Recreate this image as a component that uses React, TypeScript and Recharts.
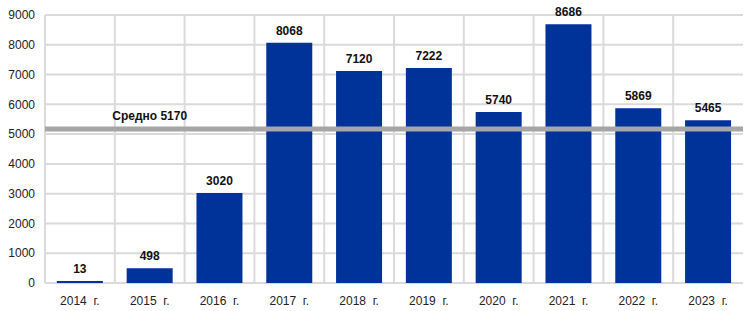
import { BarChart, Bar, XAxis, YAxis, CartesianGrid, ReferenceLine, LabelList } from "recharts";

const years = ["2014", "2015", "2016", "2017", "2018", "2019", "2020", "2021", "2022", "2023"];
const values = [13, 498, 3020, 8068, 7120, 7222, 5740, 8686, 5869, 5465];
const average = 5170;
const yTicks = [0, 1000, 2000, 3000, 4000, 5000, 6000, 7000, 8000, 9000];

const data = years.map((y, i) => ({ year: `${y}\u00a0\u00a0г.`, value: values[i] }));

const FONT = "Arial, 'Liberation Sans', sans-serif";

export default function App() {
  const renderAvgLabel = (props: any) => {
    const vb = props.viewBox || {};
    const x = (vb.x || 0) + (vb.width || 0) * 0.15;
    const y = (vb.y || 0) - 9;
    return (
      <text x={x} y={y} textAnchor="middle" fill="#111" fontSize={12} fontWeight="bold" fontFamily={FONT}>
        {`Средно ${average}`}
      </text>
    );
  };

  return (
    <div style={{ position: "absolute", left: 0, top: 0, background: "#fff" }}>
      <BarChart
        width={744}
        height={311}
        data={data}
        margin={{ top: 15, right: 1, bottom: 0, left: 0 }}
        barCategoryGap="17%"
      >
        <CartesianGrid
          stroke="#dadada"
          strokeWidth={2}
          verticalCoordinatesGenerator={({ offset }: any) =>
            years.map((_, i) => offset.left + (offset.width / years.length) * i)
          }
        />
        <XAxis
          dataKey="year"
          axisLine={false}
          tickLine={false}
          height={28}
          tickMargin={7}
          interval={0}
          tick={{ fill: "#222", fontSize: 12, fontFamily: FONT }}
        />
        <YAxis
          domain={[0, 9000]}
          ticks={yTicks}
          axisLine={false}
          tickLine={false}
          width={45}
          tickMargin={4}
          interval={0}
          tick={{ fill: "#222", fontSize: 12, fontFamily: FONT }}
        />
        <Bar dataKey="value" fill="#003399" minPointSize={2} isAnimationActive={false}>
          <LabelList
            dataKey="value"
            position="top"
            offset={8}
            fill="#111"
            fontSize={12}
            fontWeight="bold"
            fontFamily={FONT}
          />
        </Bar>
        <ReferenceLine y={average} stroke="#a6a6a6" strokeWidth={5} label={renderAvgLabel} />
      </BarChart>
    </div>
  );
}
